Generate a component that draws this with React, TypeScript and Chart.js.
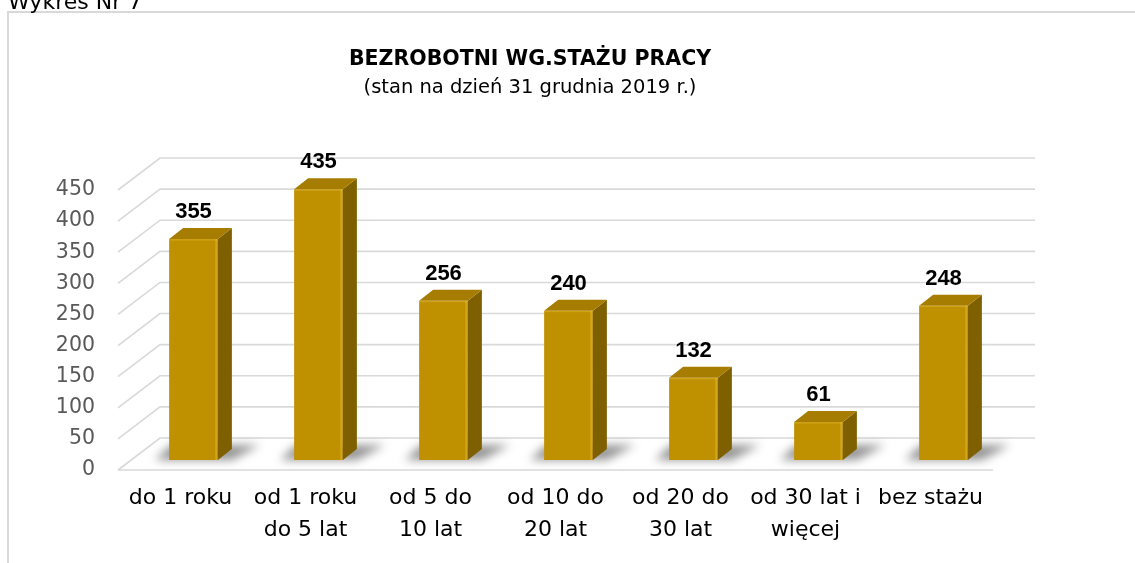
import React, { useEffect, useRef } from 'react';
import { Chart, registerables } from 'chart.js';

Chart.register(...registerables);

const caption = 'Wykres Nr 7';
const titleText = 'BEZROBOTNI WG.STAŻU PRACY';
const subtitleText = '(stan na dzień 31 grudnia 2019 r.)';
const categories: string[][] = [
  ['do 1 roku'],
  ['od 1 roku', 'do 5 lat'],
  ['od 5 do', '10 lat'],
  ['od 10 do', '20 lat'],
  ['od 20 do', '30 lat'],
  ['od 30 lat i', 'więcej'],
  ['bez stażu'],
];
const values: number[] = [355, 435, 256, 240, 132, 61, 248];
const yMin = 0;
const yMax = 450;
const yStep = 50;

const FONT = '"DejaVu Sans", sans-serif';
// 3D projection offsets (pixels) relative to the bar plane
const FRONT_DX = -13;
const FRONT_DY = 10;
const BACK_DX = 29;
const BACK_DY = -22;
const BAR_DX = 14;
const BAR_DY = 11;

const FRONT_COLOR = '#BF9000';
const SIDE_COLOR = '#7F6000';
const TOP_COLOR = '#A67D00';
const GRID_COLOR = '#d9d9d9';

const threeD = {
  id: 'threeD',
  beforeDraw(chart: any) {
    const ctx = chart.ctx;
    ctx.save();
    ctx.fillStyle = '#ffffff';
    ctx.fillRect(0, 0, chart.width, chart.height);
    // frame
    ctx.fillStyle = '#d9d9d9';
    ctx.fillRect(7, 11, 2, chart.height - 11);
    ctx.fillRect(7, 11, chart.width - 7, 2);
    // caption
    ctx.fillStyle = '#000000';
    ctx.font = `22px ${FONT}`;
    ctx.textAlign = 'left';
    ctx.textBaseline = 'alphabetic';
    ctx.fillText(caption, 8, 9);
    // title
    ctx.textAlign = 'center';
    ctx.textBaseline = 'middle';
    ctx.font = `bold 20.5px ${FONT}`;
    ctx.fillText(titleText, 530, 60);
    ctx.font = `19.5px ${FONT}`;
    ctx.fillText(subtitleText, 530, 88);
    ctx.restore();
  },
  beforeDatasetsDraw(chart: any) {
    const ctx = chart.ctx;
    const ys = chart.scales.y;
    const area = chart.chartArea;
    ctx.save();
    ctx.strokeStyle = GRID_COLOR;
    ctx.lineWidth = 1.6;
    const fl = area.left + FRONT_DX;
    const fr = area.right + FRONT_DX;
    const bl = area.left + BACK_DX;
    const br = area.right + BACK_DX;
    ys.ticks.forEach((t: any) => {
      const py = ys.getPixelForValue(t.value);
      ctx.beginPath();
      ctx.moveTo(fl, py + FRONT_DY);
      ctx.lineTo(bl, py + BACK_DY);
      ctx.lineTo(br, py + BACK_DY);
      ctx.stroke();
    });
    const p0 = ys.getPixelForValue(yMin);
    ctx.beginPath();
    ctx.moveTo(fl, p0 + FRONT_DY);
    ctx.lineTo(fr, p0 + FRONT_DY);
    ctx.stroke();

    // soft floor shadows
    const meta = chart.getDatasetMeta(0);
    ctx.filter = 'blur(5px)';
    ctx.fillStyle = 'rgba(0,0,0,0.42)';
    meta.data.forEach((bar: any) => {
      const x0 = bar.x - bar.width / 2;
      const x1 = bar.x + bar.width / 2;
      const b = bar.base;
      ctx.beginPath();
      ctx.moveTo(x0 - 14, b);
      ctx.lineTo(x1 + 14, b);
      ctx.lineTo(x1 + BAR_DX + 28, b - BAR_DY - 4);
      ctx.lineTo(x0 + BAR_DX - 12, b - BAR_DY - 4);
      ctx.closePath();
      ctx.fill();
    });
    ctx.filter = 'none';
    ctx.restore();
  },
  afterDatasetsDraw(chart: any) {
    const ctx = chart.ctx;
    const meta = chart.getDatasetMeta(0);
    ctx.save();
    meta.data.forEach((bar: any, i: number) => {
      const x0 = bar.x - bar.width / 2;
      const x1 = bar.x + bar.width / 2;
      const top = bar.y;
      const b = bar.base;
      // side
      ctx.fillStyle = SIDE_COLOR;
      ctx.beginPath();
      ctx.moveTo(x1, top);
      ctx.lineTo(x1 + BAR_DX, top - BAR_DY);
      ctx.lineTo(x1 + BAR_DX, b - BAR_DY);
      ctx.lineTo(x1, b);
      ctx.closePath();
      ctx.fill();
      // top
      ctx.fillStyle = TOP_COLOR;
      ctx.beginPath();
      ctx.moveTo(x0, top);
      ctx.lineTo(x0 + BAR_DX, top - BAR_DY);
      ctx.lineTo(x1 + BAR_DX, top - BAR_DY);
      ctx.lineTo(x1, top);
      ctx.closePath();
      ctx.fill();
      // subtle edge highlights
      ctx.fillStyle = 'rgba(255,215,90,0.35)';
      ctx.fillRect(x1 - 2.5, top, 1.5, b - top);
      ctx.fillStyle = 'rgba(255,215,90,0.25)';
      ctx.fillRect(x0, top, bar.width, 1.5);
      // value label
      ctx.fillStyle = '#000000';
      ctx.font = `bold 22px "Liberation Sans", Arial, sans-serif`;
      ctx.textAlign = 'center';
      ctx.textBaseline = 'middle';
      ctx.fillText(String(values[i]), bar.x, top - BAR_DY - 16);
    });
    ctx.restore();
  },
};

export default function App() {
  const ref = useRef<HTMLCanvasElement | null>(null);
  useEffect(() => {
    if (!ref.current) return;
    const chart = new Chart(ref.current, {
      type: 'bar',
      data: {
        labels: categories,
        datasets: [
          {
            data: values,
            backgroundColor: FRONT_COLOR,
            borderWidth: 0,
            barPercentage: 0.39,
            categoryPercentage: 1.0,
          },
        ],
      },
      options: {
        responsive: false,
        maintainAspectRatio: false,
        animation: false,
        layout: { padding: { left: 0, right: 129, top: 180, bottom: 0 } },
        plugins: {
          legend: { display: false },
          title: { display: false },
          tooltip: { enabled: false },
        },
        scales: {
          x: {
            grid: { display: false },
            border: { display: false },
            ticks: {
              color: '#000000',
              font: { family: FONT, size: 22, lineHeight: 1.42 },
              padding: 15,
              labelOffset: -13,
              maxRotation: 0,
              minRotation: 0,
              autoSkip: false,
            },
            afterFit: (scale: any) => {
              scale.height = 103;
            },
          },
          y: {
            min: yMin,
            max: yMax,
            grid: { display: false },
            border: { display: false },
            ticks: {
              stepSize: yStep,
              color: '#595959',
              font: { family: FONT, size: 20.5 },
              padding: 28,
              labelOffset: FRONT_DY,
            },
            afterFit: (scale: any) => {
              scale.width = 131;
            },
          },
        },
      },
      plugins: [threeD],
    });
    return () => chart.destroy();
  }, []);
  return (
    <div style={{ position: 'fixed', left: 0, top: 0, width: 1135, height: 563, overflow: 'hidden', background: '#fff' }}>
      <canvas ref={ref} width={1135} height={563} style={{ display: 'block' }} />
    </div>
  );
}
